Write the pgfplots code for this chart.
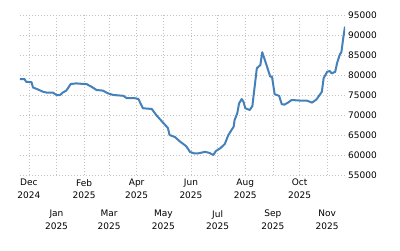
\documentclass[border=0pt]{standalone}
\usepackage{pgfplots}
\pgfplotsset{compat=1.18}
\usepackage{fontspec}
\setmainfont{DejaVu Sans}
\definecolor{linec}{RGB}{68,128,185}
\definecolor{gridc}{RGB}{195,195,195}
\begin{document}
\begin{tikzpicture}[font=\fontsize{9}{12.5}\selectfont]
\useasboundingbox (-20pt,-75pt) rectangle (380pt,175pt);
\begin{axis}[
  at={(0pt,0pt)}, anchor=south west,
  scale only axis, width=325pt, height=160pt,
  xmin=-10, xmax=355, ymin=55000, ymax=95000,
  axis line style={draw=none},
  tick style={draw=none},
  scaled y ticks=false, scaled x ticks=false,
  minor tick num=0,
  ytick={55000,60000,65000,70000,75000,80000,85000,90000,95000},
  yticklabels={55000,60000,65000,70000,75000,80000,85000,90000,95000},
  yticklabel pos=right,
  yticklabel style={anchor=west, inner sep=0pt, xshift=3pt},
  xtick={0,62,121,182,243,304},
  xticklabels={{Dec\\2024},{Feb\\2025},{Apr\\2025},{Jun\\2025},{Aug\\2025},{Oct\\2025}},
  xticklabel style={align=center, anchor=north, inner sep=0pt, yshift=-4pt},
  extra x ticks={31,90,151,212,274,335},
  extra x tick labels={{Jan\\2025},{Mar\\2025},{May\\2025},{Jul\\2025},{Sep\\2025},{Nov\\2025}},
  extra x tick style={grid=major, xticklabel style={yshift=-31pt}},
  xmajorgrids, ymajorgrids,
  major grid style={draw=gridc, dash pattern=on 1pt off 2pt, line width=0.7pt},
]
\addplot[color=linec, line width=2pt, line join=round] coordinates {
(-10,79000) (-5,79000) (-3,78300) (3,78200) (4.5,76900) (10,76400) (16,75800)
(20,75600) (27,75600) (31,75000) (35,75000) (38,75600) (42,76100) (47,77750)
(53,77900) (65,77700) (70,77100) (76,76250) (83,76100) (89,75400) (95,75000)
(106,74800) (110,74200) (119,74200) (123,74000) (128,71700) (138,71500)
(143,70000) (151,68000) (156,66800) (158,65000) (164,64500) (170,63300)
(175,62500) (177,62100) (181,60750) (186,60400) (190,60400) (198,60800)
(203,60500) (207,60000) (210,61000) (215,61700) (220,62750) (224,65000)
(230,67100) (231,68750) (234,70400) (236,72900) (239,74000) (241,73300)
(243,71700) (248,71250) (251,72250) (252,74200) (256,81700) (260,82500)
(262,85700) (265,83750) (268,81700) (271,79600) (273,79600) (276,75200)
(281,74800) (284,72700) (287,72600) (291,73100) (295,73750) (305,73600)
(312,73600) (318,73100) (323,73900) (329,75800) (331,79200) (333,80000)
(335,80800) (338,81000) (340,80400) (344,80800) (346,82900) (349,85000)
(351,85800) (353,89200) (355,92100)
};
\end{axis}
\end{tikzpicture}
\end{document}
